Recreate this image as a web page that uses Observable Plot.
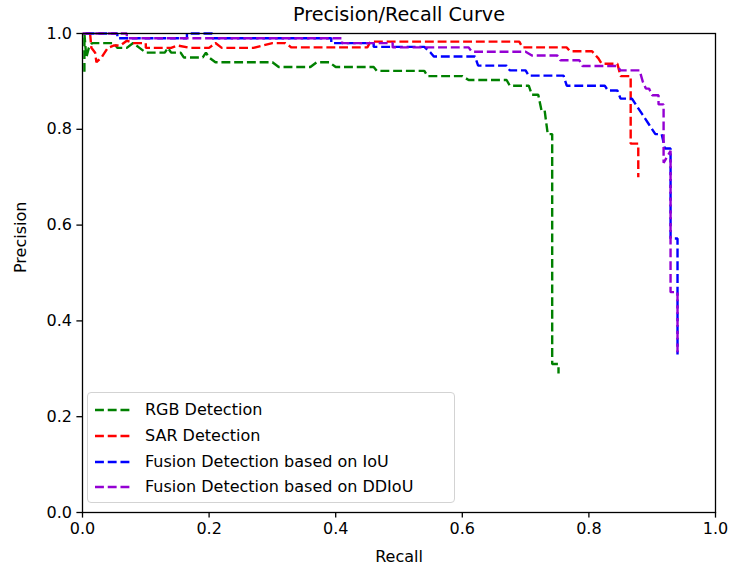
<!DOCTYPE html>
<html>
<head>
<meta charset="utf-8">
<script src="https://cdn.jsdelivr.net/npm/d3@7"></script>
<script src="https://cdn.jsdelivr.net/npm/@observablehq/plot@0.6"></script>
<style>
  html, body { margin: 0; padding: 0; background: #fff; }
  #wrap { position: relative; width: 738px; height: 571px; font-family: "DejaVu Sans", sans-serif; }
  #legend { position: absolute; left: 87px; top: 392px; width: 368px; height: 111px; box-sizing: border-box;
            border: 1px solid #d3d3d3; border-radius: 4px; background: rgba(255,255,255,0.8); }
  .row { position: absolute; left: 0; height: 24px; width: 100%; }
  .row svg { position: absolute; left: 7px; top: 0; }
  .row span { position: absolute; left: 57px; top: 2px; font-size: 16px; line-height: 20px; color: #000; white-space: nowrap; }
</style>
</head>
<body>
<div id="wrap"><div id="legend"></div></div>
<script>
const seriesNames = ["RGB Detection", "SAR Detection", "Fusion Detection based on IoU", "Fusion Detection based on DDIoU"];
const seriesColors = ["#008000", "#ff0000", "#0000ff", "#9400d3"];
const xTicks = [0, 0.2, 0.4, 0.6, 0.8, 1.0];
const yTicks = [0, 0.2, 0.4, 0.6, 0.8, 1.0];

const rgbRecall = [0.003,0.003,0.006,0.01,0.015,0.05,0.055,0.07,0.08,0.09,0.1,0.13,0.135,0.14,0.155,0.16,0.19,0.195,0.2,0.21,0.3,0.31,0.36,0.37,0.39,0.4,0.46,0.465,0.54,0.545,0.6,0.61,0.67,0.675,0.705,0.71,0.72,0.725,0.73,0.735,0.742,0.742,0.752,0.752];
const rgbPrecision = [0.92,1.0,0.95,0.97,0.98,0.98,0.97,0.97,0.98,0.97,0.96,0.96,0.97,0.96,0.96,0.95,0.95,0.96,0.95,0.94,0.94,0.93,0.93,0.94,0.94,0.93,0.93,0.922,0.922,0.911,0.911,0.903,0.903,0.891,0.891,0.872,0.872,0.84,0.84,0.79,0.79,0.31,0.31,0.29];

const sarRecall = [0.012,0.014,0.02,0.022,0.03,0.035,0.04,0.05,0.06,0.07,0.08,0.1,0.1,0.14,0.15,0.17,0.2,0.21,0.22,0.27,0.3,0.32,0.33,0.45,0.455,0.69,0.695,0.765,0.77,0.805,0.815,0.82,0.845,0.85,0.862,0.866,0.866,0.878,0.878];
const sarPrecision = [1.0,0.97,0.96,0.94,0.95,0.96,0.97,0.975,0.975,0.985,0.98,0.98,0.97,0.97,0.975,0.97,0.97,0.98,0.97,0.97,0.98,0.98,0.971,0.971,0.983,0.983,0.971,0.971,0.963,0.963,0.948,0.937,0.937,0.911,0.911,0.911,0.77,0.77,0.70];

const iouRecall = [0.005,0.055,0.055,0.165,0.165,0.205,0.205,0.393,0.393,0.46,0.46,0.54,0.55,0.555,0.62,0.625,0.67,0.675,0.70,0.705,0.76,0.765,0.825,0.83,0.845,0.85,0.868,0.875,0.885,0.895,0.905,0.915,0.92,0.929,0.929,0.94,0.94];
const iouPrecision = [1.0,1.0,0.99,0.99,1.0,1.0,0.99,0.99,0.98,0.98,0.972,0.972,0.96,0.952,0.952,0.933,0.933,0.923,0.923,0.912,0.912,0.891,0.891,0.881,0.881,0.864,0.864,0.85,0.83,0.81,0.79,0.79,0.76,0.76,0.572,0.572,0.33];

const ddiouRecall = [0.0,0.07,0.07,0.41,0.41,0.49,0.49,0.61,0.615,0.70,0.71,0.75,0.755,0.785,0.79,0.845,0.85,0.88,0.885,0.89,0.895,0.9,0.91,0.91,0.918,0.918,0.929,0.929,0.94,0.94];
const ddiouPrecision = [1.0,1.0,0.99,0.99,0.98,0.98,0.971,0.971,0.962,0.962,0.954,0.954,0.944,0.944,0.932,0.932,0.923,0.923,0.9,0.885,0.885,0.871,0.871,0.852,0.852,0.73,0.755,0.46,0.46,0.33];

const recalls = [rgbRecall, sarRecall, iouRecall, ddiouRecall];
const precisions = [rgbPrecision, sarPrecision, iouPrecision, ddiouPrecision];

const rows = seriesNames.flatMap((name, k) =>
  recalls[k].map((r, i) => ({series: name, recall: r, precision: precisions[k][i]})));

const dash = "8.9,3.84";
const fmt = d => d.toFixed(1);

const chart = Plot.plot({
  width: 738,
  height: 571,
  marginLeft: 82,
  marginRight: 23,
  marginTop: 33,
  marginBottom: 59,
  style: {fontFamily: "DejaVu Sans, sans-serif", fontSize: "16px", background: "white", color: "black"},
  x: {domain: [0, 1]},
  y: {domain: [0, 1]},
  marks: [
    ...seriesNames.map((name, k) =>
      Plot.line(rows.filter(d => d.series === name), {
        x: "recall", y: "precision", stroke: seriesColors[k],
        strokeWidth: 2.4, strokeDasharray: dash, strokeLinejoin: "miter", strokeLinecap: "butt"
      })),
    Plot.frame({stroke: "black", strokeWidth: 1.3}),
    Plot.axisX(xTicks, {tickFormat: fmt, tickSize: 5.6, tickPadding: 5, strokeWidth: 1.3, label: null}),
    Plot.axisY(yTicks, {tickFormat: fmt, tickSize: 5.6, tickPadding: 5, strokeWidth: 1.3, label: null}),
    Plot.text(["Recall"], {frameAnchor: "bottom", dy: 44, lineAnchor: "middle", fontSize: 16}),
    Plot.text(["Precision"], {frameAnchor: "left", dx: -62, rotate: -90, lineAnchor: "middle", fontSize: 16}),
    Plot.text(["Precision/Recall Curve"], {frameAnchor: "top", dy: -19, lineAnchor: "middle", fontSize: 19.2})
  ]
});

document.getElementById("wrap").prepend(chart);

const legend = document.getElementById("legend");
seriesNames.forEach((name, k) => {
  const row = document.createElement("div");
  row.className = "row";
  row.style.top = (5 + 25.8 * k) + "px";
  row.innerHTML = `<svg width="40" height="24"><line x1="0" x2="36" y1="12" y2="12" stroke="${seriesColors[k]}" stroke-width="2.4" stroke-dasharray="${dash}"/></svg><span>${name}</span>`;
  legend.appendChild(row);
});
</script>
</body>
</html>
